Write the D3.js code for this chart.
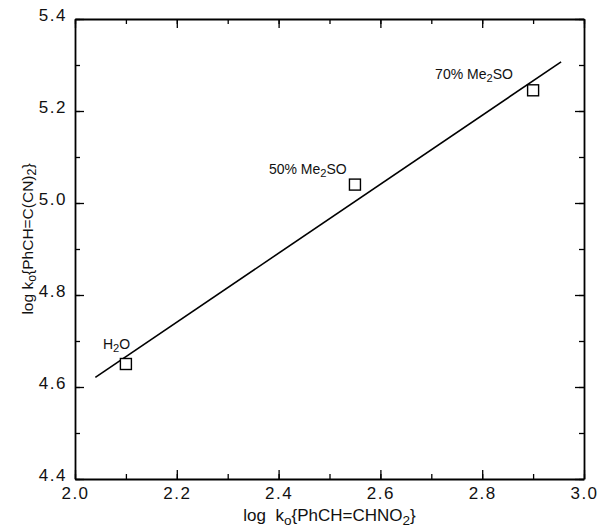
<!DOCTYPE html>
<html>
<head>
<meta charset="utf-8">
<script src="https://cdn.jsdelivr.net/npm/d3@7"></script>
<style>
  html, body { margin: 0; padding: 0; background: #fff; }
  svg text { font-family: "Liberation Sans", Arial, sans-serif; fill: #111; }
</style>
</head>
<body>
<svg id="chart" width="598" height="531"></svg>
<script>
// 数据
const solventNames = ['H2O', '50% Me2SO', '70% Me2SO'];
const logKoNitro = [2.10, 2.55, 2.90];
const logKoDicyano = [4.65, 5.04, 5.245];
const fitRange = [2.04, 2.955];
const xTicks = [2.0, 2.2, 2.4, 2.6, 2.8, 3.0];
const yTicks = [4.4, 4.6, 4.8, 5.0, 5.2, 5.4];

const margin = { left: 75, right: 14, top: 19, bottom: 52 };
const W = 598, H = 531;

const svg = d3.select('#chart');
const x = d3.scaleLinear().domain([2.0, 3.0]).range([margin.left, W - margin.right]);
const y = d3.scaleLinear().domain([4.4, 5.4]).range([H - margin.bottom, margin.top]);
const pLeft = margin.left, pRight = W - margin.right, pBottom = H - margin.bottom, pTop = margin.top;

// 最小二乘拟合
const mx = d3.mean(logKoNitro), my = d3.mean(logKoDicyano);
let sxy = 0, sxx = 0;
logKoNitro.forEach((v, i) => { sxy += (v - mx) * (logKoDicyano[i] - my); sxx += (v - mx) ** 2; });
const slope = sxy / sxx, icpt = my - slope * mx;

// 坐标轴（刻度朝内，四边），主刻度轴保留 domain 作为边框
const minor = d3.range(2.0, 3.0001, 0.1);
const minorY = d3.range(4.4, 5.4001, 0.1);
const addAxis = (axis, tx, ty, keepDomain) => {
  const g = svg.append('g').attr('transform', `translate(${tx},${ty})`).call(axis.tickSizeOuter(0));
  if (keepDomain) {
    g.select('.domain').attr('stroke', '#000').attr('stroke-width', 1.8);
  } else {
    g.select('.domain').remove();
  }
  g.selectAll('.tick line').attr('stroke', '#000').attr('stroke-width', 1.3);
  return g;
};
addAxis(d3.axisBottom(x).tickValues(minor).tickSize(-5).tickFormat(''), 0, pBottom, false);
addAxis(d3.axisBottom(x).tickValues(xTicks).tickSize(-9).tickPadding(8).tickFormat(d3.format('.1f')), 0, pBottom, true)
  .selectAll('text').attr('font-size', 17).attr('letter-spacing', 1.5);
addAxis(d3.axisTop(x).tickValues(minor).tickSize(-5).tickFormat(''), 0, pTop, false);
addAxis(d3.axisTop(x).tickValues(xTicks).tickSize(-9).tickFormat(''), 0, pTop, true);
addAxis(d3.axisLeft(y).tickValues(minorY).tickSize(-5).tickFormat(''), pLeft, 0, false);
addAxis(d3.axisLeft(y).tickValues(yTicks).tickSize(-9).tickPadding(8).tickFormat(d3.format('.1f')), pLeft, 0, true)
  .selectAll('text').attr('font-size', 17).attr('letter-spacing', 1.5).attr('dy', '0.1em');
addAxis(d3.axisRight(y).tickValues(minorY).tickSize(-5).tickFormat(''), pRight, 0, false);
addAxis(d3.axisRight(y).tickValues(yTicks).tickSize(-9).tickFormat(''), pRight, 0, true);

// 拟合直线
svg.append('line')
  .attr('x1', x(fitRange[0])).attr('y1', y(icpt + slope * fitRange[0]))
  .attr('x2', x(fitRange[1])).attr('y2', y(icpt + slope * fitRange[1]))
  .attr('stroke', '#000').attr('stroke-width', 1.6);

// 数据点（方块）
const s = 11;
svg.append('g').selectAll('rect')
  .data(logKoNitro)
  .enter().append('rect')
  .attr('x', (d) => x(d) - s / 2)
  .attr('y', (d, i) => y(logKoDicyano[i]) - s / 2)
  .attr('width', s).attr('height', s)
  .attr('fill', '#fff').attr('stroke', '#000').attr('stroke-width', 1.4);

// 点标签
const labelOffsets = [[-23, -15], [-86, -11], [-98, -11]];
const addChem = (sel, parts) => {
  parts.forEach(p => {
    const t = sel.append('tspan').text(p.t);
    if (p.sub) t.attr('baseline-shift', '-28%').attr('font-size', '0.8em');
  });
};
const labelParts = [
  [{ t: 'H' }, { t: '2', sub: true }, { t: 'O' }],
  [{ t: '50% Me' }, { t: '2', sub: true }, { t: 'SO' }],
  [{ t: '70% Me' }, { t: '2', sub: true }, { t: 'SO' }]
];
logKoNitro.forEach((d, i) => {
  const t = svg.append('text')
    .attr('x', x(d) + labelOffsets[i][0])
    .attr('y', y(logKoDicyano[i]) + labelOffsets[i][1])
    .attr('font-size', 14);
  addChem(t, labelParts[i]);
});

// 轴标题
const xl = svg.append('text')
  .attr('x', (pLeft + pRight) / 2).attr('y', H - 10)
  .attr('text-anchor', 'middle').attr('font-size', 17)
  .attr('xml:space', 'preserve');
addChem(xl, [{ t: 'log  k' }, { t: 'o', sub: true }, { t: '{PhCH=CHNO' }, { t: '2', sub: true }, { t: '}' }]);

const yl = svg.append('text')
  .attr('transform', `translate(33,239) rotate(-90)`)
  .attr('text-anchor', 'middle').attr('font-size', 15.5);
addChem(yl, [{ t: 'log k' }, { t: 'o', sub: true }, { t: '{PhCH=C(CN)' }, { t: '2', sub: true }, { t: '}' }]);
</script>
</body>
</html>
